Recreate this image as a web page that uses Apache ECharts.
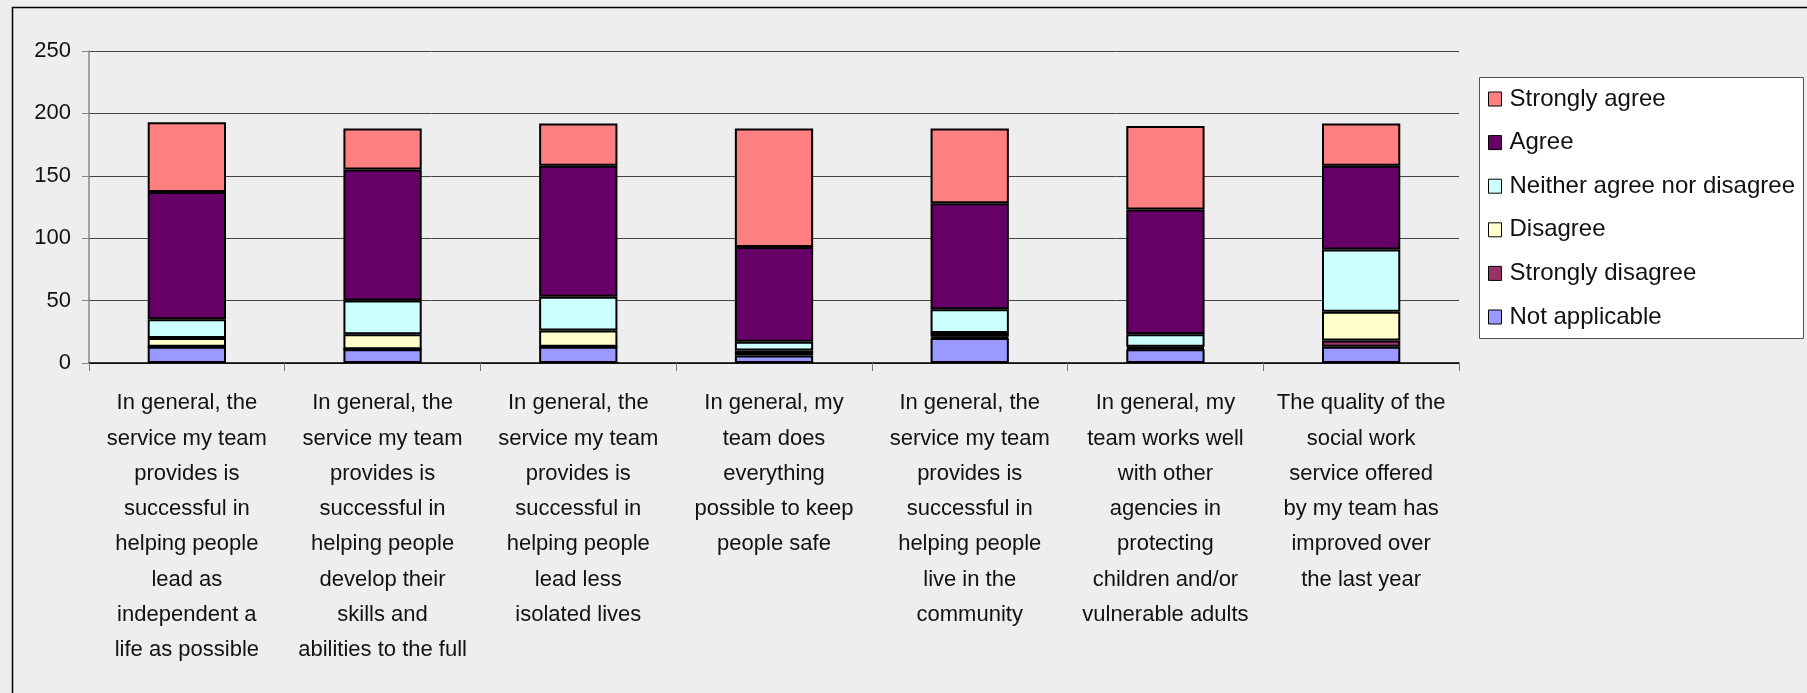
<!DOCTYPE html>
<html>
<head>
<meta charset="utf-8">
<script src="https://cdn.jsdelivr.net/npm/echarts@6/dist/echarts.min.js"></script>
<style>
html,body{margin:0;padding:0;background:#eeeeee;}
#c{width:1807px;height:693px;}
</style>
</head>
<body>
<div id="c"></div>
<script>
const categories = [
  "In general, the\nservice my team\nprovides is\nsuccessful in\nhelping people\nlead as\nindependent a\nlife as possible",
  "In general, the\nservice my team\nprovides is\nsuccessful in\nhelping people\ndevelop their\nskills and\nabilities to the full",
  "In general, the\nservice my team\nprovides is\nsuccessful in\nhelping people\nlead less\nisolated lives",
  "In general, my\nteam does\neverything\npossible to keep\npeople safe",
  "In general, the\nservice my team\nprovides is\nsuccessful in\nhelping people\nlive in the\ncommunity",
  "In general, my\nteam works well\nwith other\nagencies in\nprotecting\nchildren and/or\nvulnerable adults",
  "The quality of the\nsocial work\nservice offered\nby my team has\nimproved over\nthe last year"
];
const notApplicable     = [13, 11, 13, 6, 20, 11, 13];
const stronglyDisagree  = [0, 0, 0, 2, 1, 1, 5];
const disagree          = [7, 12, 13, 2, 3, 1, 23];
const neither           = [15, 27, 27, 7, 19, 10, 50];
const agree             = [102, 105, 105, 76, 85, 100, 67];
const stronglyAgree     = [56, 33, 34, 95, 60, 67, 34];
const seriesNames = ["Not applicable", "Strongly disagree", "Disagree", "Neither agree nor disagree", "Agree", "Strongly agree"];
const yTicks = [0, 50, 100, 150, 200, 250];

const colors = ["#9999ff", "#993366", "#ffffcc", "#ccffff", "#660066", "#ff8080"];
const dataSets = [notApplicable, stronglyDisagree, disagree, neither, agree, stronglyAgree];

const chart = echarts.init(document.getElementById('c'), null, {renderer: 'canvas'});
const series = dataSets.map((d, i) => ({
  name: seriesNames[i],
  type: 'bar',
  stack: 'total',
  barWidth: '40%',
  data: d,
  itemStyle: {color: colors[i], borderColor: '#000', borderWidth: 2},
  emphasis: {disabled: true}
}));

chart.setOption({
  animation: false,
  backgroundColor: '#eeeeee',
  textStyle: {fontFamily: 'Liberation Sans, Arial, sans-serif'},
  graphic: [
    {type: 'rect', shape: {x: 12.5, y: 7.5, width: 1900, height: 800},
     style: {fill: 'none', stroke: '#000', lineWidth: 1.5}, z: 0, silent: true},
    {type: 'rect', shape: {x: 1479.5, y: 77.5, width: 324, height: 261},
     style: {fill: '#ffffff', stroke: '#555', lineWidth: 1}, z: 0, silent: true}
  ],
  grid: {left: 89, top: 51, width: 1370, height: 312, containLabel: false, outerBoundsMode: 'none'},
  legend: {
    orient: 'vertical',
    left: 1488,
    top: 87,
    padding: 0,
    itemWidth: 13,
    itemHeight: 14,
    itemGap: 19.6,
    icon: 'rect',
    selectedMode: false,
    data: seriesNames.slice().reverse(),
    itemStyle: {borderColor: '#000', borderWidth: 1},
    textStyle: {fontSize: 24, lineHeight: 24, color: '#111', padding: [0, 0, 0, 3],
                fontFamily: 'Liberation Sans, Arial, sans-serif'},
    z: 5
  },
  xAxis: {
    type: 'category',
    data: categories,
    axisLine: {show: true, lineStyle: {color: '#000', width: 1.5}},
    axisTick: {show: true, length: 8, lineStyle: {color: '#777'}},
    axisLabel: {
      interval: 0,
      margin: 22.5,
      fontSize: 22,
      lineHeight: 35.3,
      color: '#111',
      fontFamily: 'Liberation Sans, Arial, sans-serif',
      align: 'center',
      verticalAlign: 'top'
    }
  },
  yAxis: {
    type: 'value',
    min: yTicks[0],
    max: yTicks[yTicks.length - 1],
    interval: 50,
    axisLine: {show: true, lineStyle: {color: '#888', width: 1.5}},
    axisTick: {show: true, length: 7, lineStyle: {color: '#888'}},
    axisLabel: {margin: 18, fontSize: 22, color: '#111', fontFamily: 'Liberation Sans, Arial, sans-serif'},
    splitLine: {show: true, lineStyle: {color: '#444', width: 1}}
  },
  series: series
});
</script>
</body>
</html>
